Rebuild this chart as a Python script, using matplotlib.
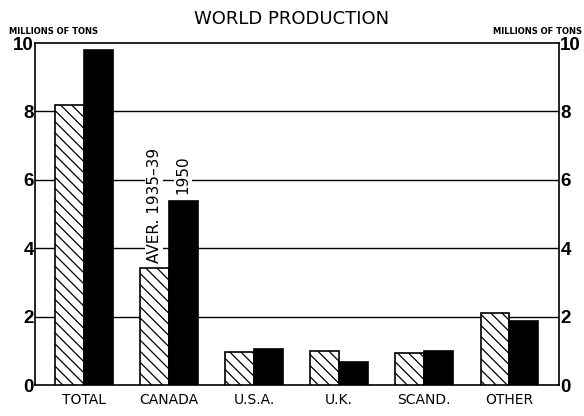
import matplotlib.pyplot as plt
import numpy as np

categories = ["TOTAL", "CANADA", "U.S.A.", "U.K.", "SCAND.", "OTHER"]
aver_1935_39 = [8.2, 3.42, 0.96, 1.0, 0.95, 2.1]
year_1950 = [9.8, 5.38, 1.05, 0.67, 1.0, 1.87]
yticks = [0, 2, 4, 6, 8, 10]

plt.rcParams['font.family'] = ['DejaVu Sans']
plt.rcParams['hatch.linewidth'] = 0.9

fig = plt.figure(figsize=(5.84, 4.16), dpi=100)
ax = fig.add_axes([0.06, 0.0745, 0.897, 0.822])

x = np.arange(len(categories))
w = 0.34
ax.bar(x - w / 2, aver_1935_39, w, facecolor='white', edgecolor='black',
       hatch='\\\\\\', linewidth=1.2, zorder=3)
ax.bar(x + w / 2, year_1950, w, facecolor='black', edgecolor='black',
       linewidth=1.2, zorder=3)

for v in yticks[1:-1]:
    ax.axhline(v, color='black', linewidth=1.0, zorder=1)

ax.set_xlim(-0.57, 5.58)
ax.set_ylim(0, 10)
ax.set_yticks(yticks)
ax.set_xticks(x)
ax.set_xticklabels(categories, fontsize=10)
ax.tick_params(axis='x', length=0, pad=6)
ax.tick_params(axis='y', length=0, pad=1, labelsize=13.5, right=True,
               labelright=True)
for t in ax.yaxis.get_major_ticks():
    for lab in (t.label1, t.label2):
        lab.set_family('Liberation Sans')
        lab.set_fontweight('bold')
for s in ax.spines.values():
    s.set_linewidth(1.2)

# bar labels for the Canada group
ax.text(x[1] - w / 2, aver_1935_39[1] + 0.15, "AVER. 1935\u201339", rotation=90,
        ha='center', va='bottom', fontsize=11, zorder=4,
        bbox=dict(facecolor='white', edgecolor='none', pad=1))
ax.text(x[1] + w / 2, year_1950[1] + 0.2, "1950", rotation=90,
        ha='center', va='bottom', fontsize=11, zorder=4,
        bbox=dict(facecolor='white', edgecolor='none', pad=1))

fig.text(0.5, 0.955, "WORLD PRODUCTION", ha='center', va='center',
         fontsize=13)
fig.text(0.015, 0.925, "MILLIONS OF TONS", ha='left', va='center',
         fontsize=6, fontweight='bold')
fig.text(0.996, 0.925, "MILLIONS OF TONS", ha='right', va='center',
         fontsize=6, fontweight='bold')

fig.savefig("out.png", dpi=100)
